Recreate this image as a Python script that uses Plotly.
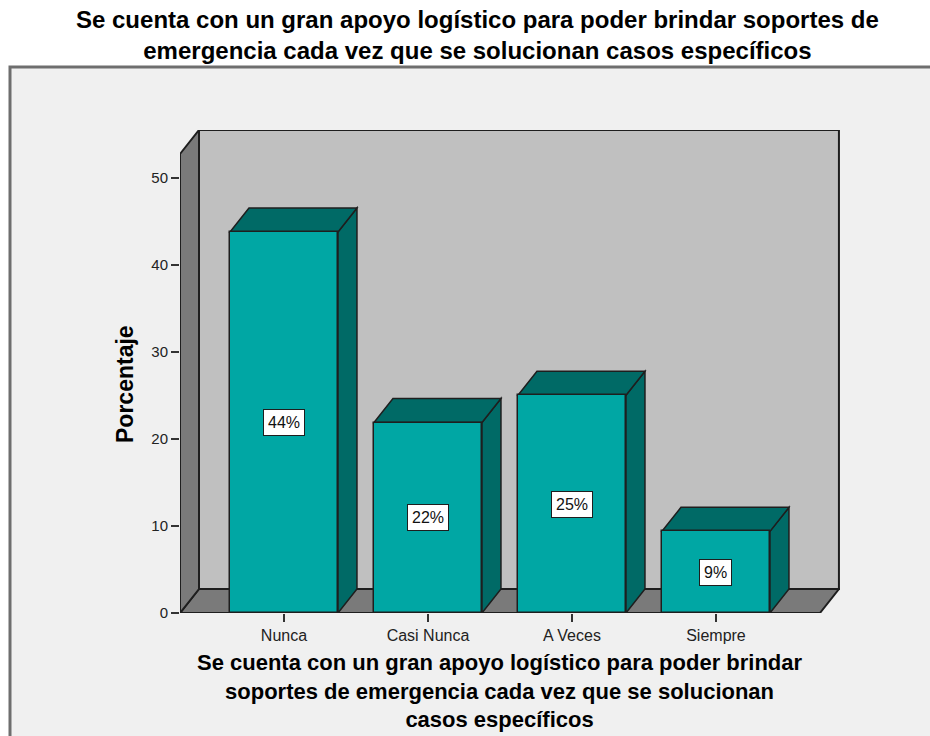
import plotly.graph_objects as go

# ---------------- data ----------------
categories = ["Nunca", "Casi Nunca", "A Veces", "Siempre"]
percentages = [43.75, 21.875, 25.0, 9.375]
y_ticks = [0, 10, 20, 30, 40, 50]
title_lines = [
    "Se cuenta con un gran apoyo logístico para poder brindar soportes de",
    "emergencia cada vez que se solucionan casos específicos",
]
xtitle_lines = [
    "Se cuenta con un gran apoyo logístico para poder brindar",
    "soportes de emergencia cada vez que se solucionan",
    "casos específicos",
]
ytitle = "Porcentaje"

# ---------------- style / geometry ----------------
W, H = 930, 736
ML, MR, MT, MB = 180, 90, 130, 123
PW, PH = W - ML - MR, H - MT - MB
PX_PER_X = 144.0
PX_PER_Y = 8.708
X0 = -0.722
XR = [X0, X0 + PW / PX_PER_X]
YR = [0, PH / PX_PER_Y]
DX = 19 / PX_PER_X
DY = 24 / PX_PER_Y
BW = 0.75
XF = (len(categories) - 1) - X0  # front right edge of floor (symmetric)

FRONT = "#00A7A4"
DARK = "#006A66"
BACK = "#C0C0C0"
WALL = "#7A7A7A"
EDGE = "#1E1E1E"
FONT = "Liberation Sans, Arial, sans-serif"


def ppx(x):
    return (x - ML) / PW


def ppy(y):
    return (H - MB - y) / PH


def poly(pts):
    return "M " + " L ".join(f"{a},{b}" for a, b in pts) + " Z"


fig = go.Figure()
xs = list(range(len(categories)))
fig.add_trace(go.Bar(
    x=xs, y=percentages, width=BW,
    marker=dict(color=FRONT, line=dict(color=EDGE, width=1.5)),
    hoverinfo="skip", showlegend=False,
))

shapes = []
# outer frame
shapes.append(dict(type="rect", xref="paper", yref="paper", layer="below",
                   x0=ppx(10), x1=ppx(W + 10), y0=ppy(H + 10), y1=ppy(67),
                   fillcolor="#F0F0F0", line=dict(color="#6E6E6E", width=3)))
ytop = YR[1]
# back wall
shapes.append(dict(type="path", xref="x", yref="y", layer="below",
                   path=poly([(X0 + DX, DY), (XF + DX, DY), (XF + DX, ytop), (X0 + DX, ytop)]),
                   fillcolor=BACK, line=dict(color=EDGE, width=2)))
# floor
shapes.append(dict(type="path", xref="x", yref="y", layer="below",
                   path=poly([(X0, 0), (XF, 0), (XF + DX, DY), (X0 + DX, DY)]),
                   fillcolor=WALL, line=dict(color=EDGE, width=2)))
# left wall
shapes.append(dict(type="path", xref="x", yref="y", layer="below",
                   path=poly([(X0, 0), (X0, ytop - DY), (X0 + DX, ytop), (X0 + DX, DY)]),
                   fillcolor=WALL, line=dict(color=EDGE, width=2)))
# bar top and side faces
for i, v in zip(xs, percentages):
    l, r = i - BW / 2, i + BW / 2
    shapes.append(dict(type="path", xref="x", yref="y", layer="below",
                       path=poly([(r, 0), (r, v), (r + DX, v + DY), (r + DX, DY)]),
                       fillcolor=DARK, line=dict(color=EDGE, width=1.5)))
    shapes.append(dict(type="path", xref="x", yref="y", layer="below",
                       path=poly([(l, v), (r, v), (r + DX, v + DY), (l + DX, v + DY)]),
                       fillcolor=DARK, line=dict(color=EDGE, width=1.5)))

annotations = []
for i, v in zip(xs, percentages):
    annotations.append(dict(x=i, y=v / 2, xref="x", yref="y", text=f"{round(v)}%",
                            showarrow=False, bgcolor="white", bordercolor=EDGE,
                            borderwidth=1, borderpad=4,
                            font=dict(family=FONT, size=16, color="#111")))
annotations.append(dict(x=ppx(477), y=ppy(35), xref="paper", yref="paper",
                        text="<br>".join(f"<b>{t}</b>" for t in title_lines),
                        showarrow=False, xanchor="center", yanchor="middle",
                        font=dict(family=FONT, size=24, color="#000")))
annotations.append(dict(x=ppx(500), y=ppy(691), xref="paper", yref="paper",
                        text="<br>".join(f"<b>{t}</b>" for t in xtitle_lines),
                        showarrow=False, xanchor="center", yanchor="middle",
                        font=dict(family=FONT, size=22, color="#000")))
annotations.append(dict(x=ppx(125), y=ppy(384), xref="paper", yref="paper", text=f"<b>{ytitle}</b>",
                        showarrow=False, textangle=-90, xanchor="center", yanchor="middle",
                        font=dict(family=FONT, size=23, color="#000")))

fig.update_layout(
    width=W, height=H,
    margin=dict(l=ML, r=MR, t=MT, b=MB, pad=0),
    paper_bgcolor="white", plot_bgcolor="rgba(0,0,0,0)",
    shapes=shapes, annotations=annotations,
    bargap=0, showlegend=False,
    xaxis=dict(range=XR, tickvals=xs, ticktext=categories, ticks="outside", ticklen=8,
               tickwidth=2, tickcolor="#333", showgrid=False, zeroline=False, showline=False,
               tickfont=dict(family=FONT, size=16, color="#222"), fixedrange=True),
    yaxis=dict(range=YR, tickvals=y_ticks, ticks="outside", ticklen=8, tickwidth=2,
               tickcolor="#333", showgrid=False, zeroline=False, showline=False,
               tickfont=dict(family=FONT, size=15, color="#222"), fixedrange=True),
)

fig.write_html("out.html")
